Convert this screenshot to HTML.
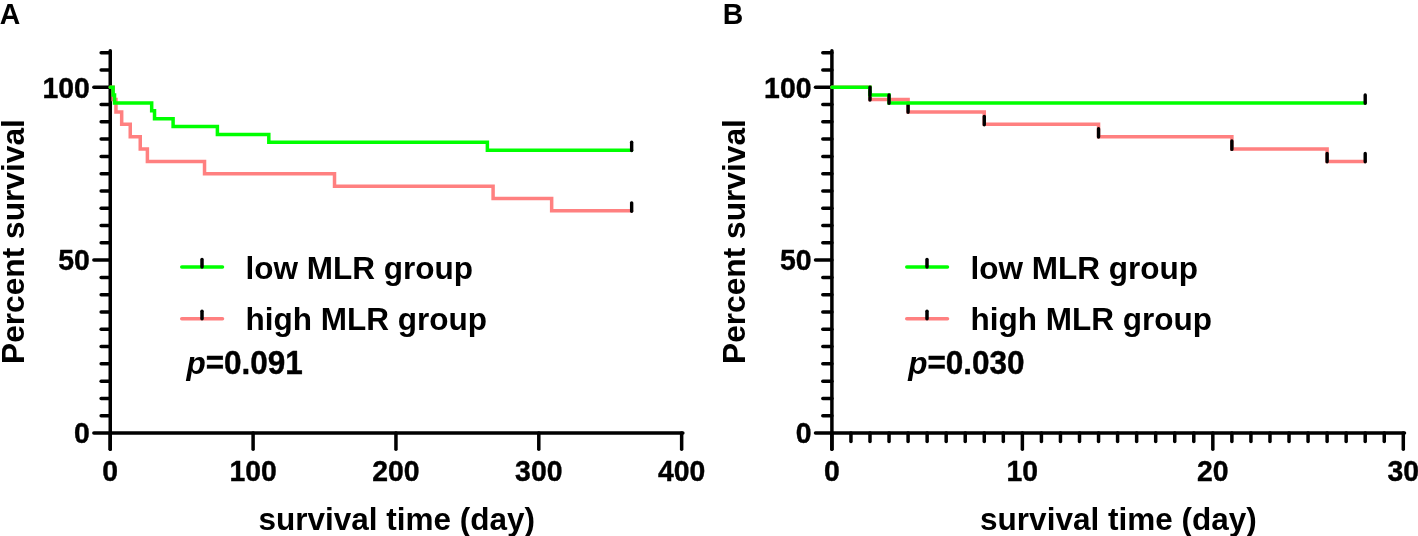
<!DOCTYPE html>
<html>
<head>
<meta charset="utf-8">
<title>Kaplan-Meier survival curves</title>
<style>
html,body{margin:0;padding:0;background:#fff;}
body{width:1418px;height:536px;overflow:hidden;}
svg{display:block;will-change:transform;}
text.d{stroke:#000;stroke-width:0.4px;stroke-linejoin:round;}
text{font-family:"Liberation Sans",sans-serif;font-weight:bold;fill:#000;}
</style>
</head>
<body>
<svg width="1418" height="536" viewBox="0 0 1418 536">
<rect x="0" y="0" width="1418" height="536" fill="#ffffff"/>
<!-- Panel A -->
<text transform="translate(-0.3,24.2) scale(1,1.05)" font-size="28.4">A</text>
<text transform="translate(23.5,364) rotate(-90)" font-size="31.7">Percent survival</text>
<text x="396.75" y="529.8" text-anchor="middle" font-size="31.5">survival time (day)</text>
<g stroke="#000" stroke-width="3.5" stroke-linecap="round" fill="none">
<path d="M110.25,50.77 V449.3" />
<path d="M93.85,433 H682.85" />
<path d="M101.15,415.71 H110.25" />
<path d="M101.15,398.43 H110.25" />
<path d="M101.15,381.14 H110.25" />
<path d="M101.15,363.85 H110.25" />
<path d="M101.15,346.56 H110.25" />
<path d="M101.15,329.27 H110.25" />
<path d="M101.15,311.99 H110.25" />
<path d="M101.15,294.7 H110.25" />
<path d="M101.15,277.41 H110.25" />
<path d="M93.85,260.12 H110.25" />
<path d="M101.15,242.84 H110.25" />
<path d="M101.15,225.55 H110.25" />
<path d="M101.15,208.26 H110.25" />
<path d="M101.15,190.97 H110.25" />
<path d="M101.15,173.69 H110.25" />
<path d="M101.15,156.4 H110.25" />
<path d="M101.15,139.11 H110.25" />
<path d="M101.15,121.83 H110.25" />
<path d="M101.15,104.54 H110.25" />
<path d="M93.85,87.25 H110.25" />
<path d="M101.15,69.96 H110.25" />
<path d="M101.15,52.67 H110.25" />
<path d="M110.25,433 V449.3" />
<path d="M253.1,433 V449.3" />
<path d="M395.95,433 V449.3" />
<path d="M538.8,433 V449.3" />
<path d="M681.65,433 V449.3" />
</g>
<text transform="translate(89.85,97.6) scale(1,1.05)" text-anchor="end" font-size="28.4" class="d">100</text>
<text transform="translate(89.85,270.48) scale(1,1.05)" text-anchor="end" font-size="28.4" class="d">50</text>
<text transform="translate(89.85,443.35) scale(1,1.05)" text-anchor="end" font-size="28.4" class="d">0</text>
<text transform="translate(110.25,481.4) scale(1,1.05)" text-anchor="middle" font-size="28.4" class="d">0</text>
<text transform="translate(253.1,481.4) scale(1,1.05)" text-anchor="middle" font-size="28.4" class="d">100</text>
<text transform="translate(395.95,481.4) scale(1,1.05)" text-anchor="middle" font-size="28.4" class="d">200</text>
<text transform="translate(538.8,481.4) scale(1,1.05)" text-anchor="middle" font-size="28.4" class="d">300</text>
<text transform="translate(681.65,481.4) scale(1,1.05)" text-anchor="middle" font-size="28.4" class="d">400</text>
<path d="M110.25,87.25 H113.11 V99.61 H115.96 V111.97 H121.68 V124.33 H130.25 V136.69 H140.25 V149.05 H147.39 V161.41 H204.53 V173.77 H334.52 V186.13 H493.09 V198.49 H551.66 V210.85 H631.65" stroke="#ff8080" stroke-width="3.5" fill="none" stroke-linejoin="miter" stroke-linecap="round"/>
<path d="M631.65,202.85 V211.2" stroke="#000" stroke-width="3.4" stroke-linecap="round" fill="none"/>
<path d="M110.25,87.25 H113.11 V95.11 H114.54 V102.97 H151.68 V110.83 H154.53 V118.69 H173.1 V126.55 H217.39 V134.41 H268.81 V142.27 H487.37 V150.13 H631.65" stroke="#00ff00" stroke-width="3.5" fill="none" stroke-linejoin="miter" stroke-linecap="round"/>
<path d="M631.65,142.13 V150.48" stroke="#000" stroke-width="3.4" stroke-linecap="round" fill="none"/>
<path d="M181.75,267 H222.5" stroke="#00ff00" stroke-width="3.5" stroke-linecap="round" fill="none"/>
<path d="M202,259.4 V267" stroke="#000" stroke-width="3.5" stroke-linecap="round" fill="none"/>
<text x="245.55" y="278.5" font-size="31.5">low MLR group</text>
<path d="M181.75,318.75 H222.5" stroke="#ff8080" stroke-width="3.5" stroke-linecap="round" fill="none"/>
<path d="M202,311.15 V318.75" stroke="#000" stroke-width="3.5" stroke-linecap="round" fill="none"/>
<text x="245.55" y="330.25" font-size="31.5">high MLR group</text>
<text x="186.4" y="374.4" font-size="31.5" font-style="italic">p</text>
<text transform="translate(205.64,374.4) scale(1,1.05)" font-size="31.5" class="d">=0.091</text>
<!-- Panel B -->
<text transform="translate(722.7,24.2) scale(1,1.05)" font-size="28.4">B</text>
<text transform="translate(745.2,364) rotate(-90)" font-size="31.7">Percent survival</text>
<text x="1118.4" y="529.8" text-anchor="middle" font-size="31.5">survival time (day)</text>
<g stroke="#000" stroke-width="3.5" stroke-linecap="round" fill="none">
<path d="M831.9,50.77 V449.3" />
<path d="M815.5,433 H1404.5" />
<path d="M822.8,415.71 H831.9" />
<path d="M822.8,398.43 H831.9" />
<path d="M822.8,381.14 H831.9" />
<path d="M822.8,363.85 H831.9" />
<path d="M822.8,346.56 H831.9" />
<path d="M822.8,329.27 H831.9" />
<path d="M822.8,311.99 H831.9" />
<path d="M822.8,294.7 H831.9" />
<path d="M822.8,277.41 H831.9" />
<path d="M815.5,260.12 H831.9" />
<path d="M822.8,242.84 H831.9" />
<path d="M822.8,225.55 H831.9" />
<path d="M822.8,208.26 H831.9" />
<path d="M822.8,190.97 H831.9" />
<path d="M822.8,173.69 H831.9" />
<path d="M822.8,156.4 H831.9" />
<path d="M822.8,139.11 H831.9" />
<path d="M822.8,121.83 H831.9" />
<path d="M822.8,104.54 H831.9" />
<path d="M815.5,87.25 H831.9" />
<path d="M822.8,69.96 H831.9" />
<path d="M822.8,52.67 H831.9" />
<path d="M831.9,433 V449.3" />
<path d="M1022.37,433 V449.3" />
<path d="M1212.83,433 V449.3" />
<path d="M1403.3,433 V449.3" />
<path d="M850.95,433 V441.6" />
<path d="M869.99,433 V441.6" />
<path d="M889.04,433 V441.6" />
<path d="M908.09,433 V441.6" />
<path d="M927.13,433 V441.6" />
<path d="M946.18,433 V441.6" />
<path d="M965.23,433 V441.6" />
<path d="M984.27,433 V441.6" />
<path d="M1003.32,433 V441.6" />
<path d="M1041.41,433 V441.6" />
<path d="M1060.46,433 V441.6" />
<path d="M1079.51,433 V441.6" />
<path d="M1098.55,433 V441.6" />
<path d="M1117.6,433 V441.6" />
<path d="M1136.65,433 V441.6" />
<path d="M1155.69,433 V441.6" />
<path d="M1174.74,433 V441.6" />
<path d="M1193.79,433 V441.6" />
<path d="M1231.88,433 V441.6" />
<path d="M1250.93,433 V441.6" />
<path d="M1269.97,433 V441.6" />
<path d="M1289.02,433 V441.6" />
<path d="M1308.07,433 V441.6" />
<path d="M1327.11,433 V441.6" />
<path d="M1346.16,433 V441.6" />
<path d="M1365.21,433 V441.6" />
<path d="M1384.25,433 V441.6" />
</g>
<text transform="translate(811.5,97.6) scale(1,1.05)" text-anchor="end" font-size="28.4" class="d">100</text>
<text transform="translate(811.5,270.48) scale(1,1.05)" text-anchor="end" font-size="28.4" class="d">50</text>
<text transform="translate(811.5,443.35) scale(1,1.05)" text-anchor="end" font-size="28.4" class="d">0</text>
<text transform="translate(831.9,481.4) scale(1,1.05)" text-anchor="middle" font-size="28.4" class="d">0</text>
<text transform="translate(1022.37,481.4) scale(1,1.05)" text-anchor="middle" font-size="28.4" class="d">10</text>
<text transform="translate(1212.83,481.4) scale(1,1.05)" text-anchor="middle" font-size="28.4" class="d">20</text>
<text transform="translate(1403.3,481.4) scale(1,1.05)" text-anchor="middle" font-size="28.4" class="d">30</text>
<path d="M831.9,87.25 H869.99 V99.61 H908.09 V111.97 H984.27 V124.33 H1098.55 V136.69 H1231.88 V149.05 H1327.11 V161.41 H1365.21" stroke="#ff8080" stroke-width="3.5" fill="none" stroke-linejoin="miter" stroke-linecap="round"/>
<path d="M869.99,91.61 V99.96 M908.09,103.97 V112.32 M984.27,116.33 V124.68 M1098.55,128.69 V137.04 M1231.88,141.05 V149.4 M1327.11,153.41 V161.76 M1365.21,153.41 V161.76" stroke="#000" stroke-width="3.4" stroke-linecap="round" fill="none"/>
<path d="M831.9,87.25 H869.99 V95.11 H889.04 V102.97 H1365.21" stroke="#00ff00" stroke-width="3.5" fill="none" stroke-linejoin="miter" stroke-linecap="round"/>
<path d="M869.99,87.11 V95.46 M889.04,94.97 V103.32 M1365.21,94.97 V103.32" stroke="#000" stroke-width="3.4" stroke-linecap="round" fill="none"/>
<path d="M906.75,267 H947.5" stroke="#00ff00" stroke-width="3.5" stroke-linecap="round" fill="none"/>
<path d="M927,259.4 V267" stroke="#000" stroke-width="3.5" stroke-linecap="round" fill="none"/>
<text x="970.55" y="278.5" font-size="31.5">low MLR group</text>
<path d="M906.75,318.75 H947.5" stroke="#ff8080" stroke-width="3.5" stroke-linecap="round" fill="none"/>
<path d="M927,311.15 V318.75" stroke="#000" stroke-width="3.5" stroke-linecap="round" fill="none"/>
<text x="970.55" y="330.25" font-size="31.5">high MLR group</text>
<text x="908.15" y="374.4" font-size="31.5" font-style="italic">p</text>
<text transform="translate(927.39,374.4) scale(1,1.05)" font-size="31.5" class="d">=0.030</text>
</svg>
</body>
</html>
